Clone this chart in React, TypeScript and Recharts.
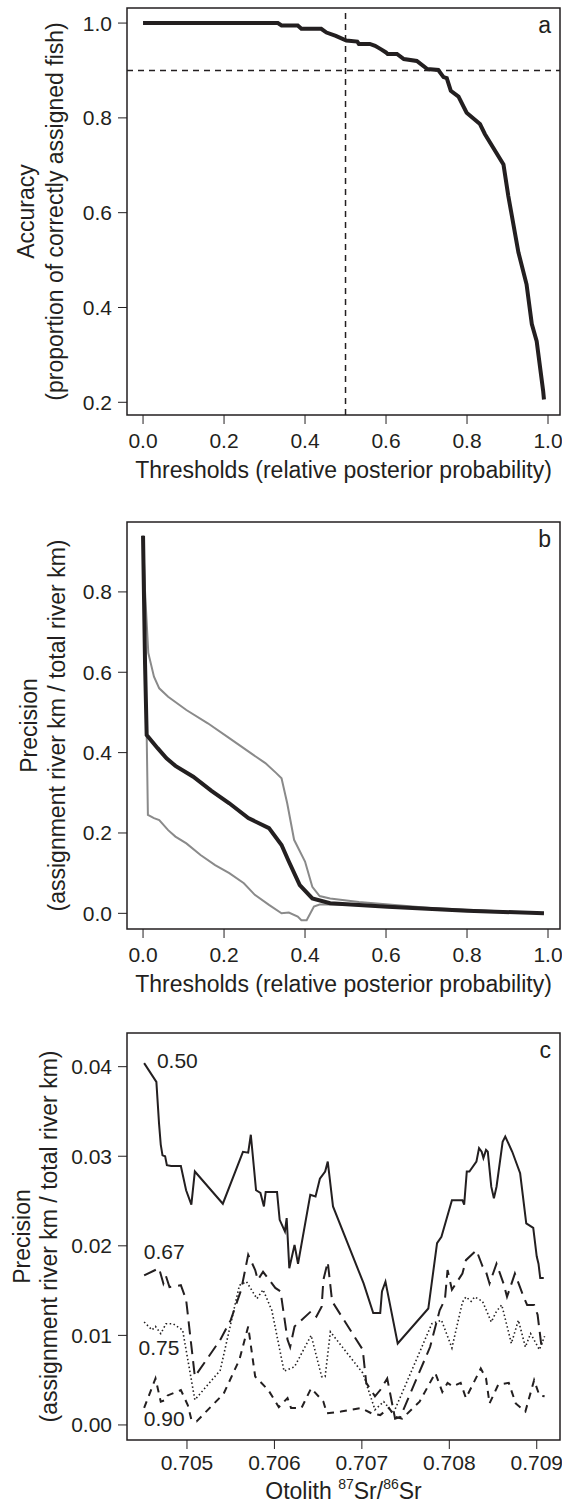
import React from "react";
import {
  LineChart, Line, XAxis, YAxis, ReferenceLine, ReferenceArea, ReferenceDot,
} from "recharts";

const INK = "#231f20";
const GREY = "#8a8a8a";

// panel a: accuracy vs threshold
const A_THRESH = [0, 0.333, 0.342, 0.382, 0.391, 0.44, 0.453, 0.476, 0.502, 0.529, 0.533, 0.56, 0.573, 0.587, 0.6, 0.604, 0.627, 0.644, 0.676, 0.702, 0.729, 0.742, 0.75, 0.76, 0.779, 0.799, 0.832, 0.844, 0.89, 0.902, 0.927, 0.947, 0.96, 0.972, 0.988, 0.99];
const A_ACC = [1.0, 1.0, 0.995, 0.995, 0.988, 0.988, 0.98, 0.973, 0.963, 0.961, 0.956, 0.956, 0.952, 0.945, 0.938, 0.935, 0.935, 0.924, 0.92, 0.903, 0.901, 0.886, 0.884, 0.857, 0.845, 0.811, 0.787, 0.766, 0.702, 0.635, 0.516, 0.449, 0.365, 0.329, 0.224, 0.206];
const A_XTICKS = [0, 0.2, 0.4, 0.6, 0.8, 1.0];
const A_YTICKS = [0.2, 0.4, 0.6, 0.8, 1.0];

// panel b: precision vs threshold (mean and bounds)
const B_MEAN_X = [0, 0.005, 0.009, 0.036, 0.058, 0.08, 0.124, 0.169, 0.213, 0.26, 0.311, 0.342, 0.36, 0.387, 0.418, 0.462, 0.604, 0.8, 0.99];
const B_MEAN_Y = [0.94, 0.62, 0.444, 0.411, 0.386, 0.367, 0.34, 0.305, 0.274, 0.237, 0.212, 0.17, 0.129, 0.0705, 0.037, 0.025, 0.0166, 0.0066, 0.0];
const B_UP_X = [0, 0.005, 0.013, 0.027, 0.04, 0.062, 0.107, 0.16, 0.213, 0.267, 0.302, 0.329, 0.342, 0.356, 0.373, 0.4, 0.418, 0.436, 0.462, 0.533, 0.71, 0.99];
const B_UP_Y = [0.94, 0.8, 0.648, 0.589, 0.56, 0.539, 0.506, 0.473, 0.436, 0.398, 0.374, 0.349, 0.336, 0.274, 0.183, 0.129, 0.066, 0.043, 0.037, 0.028, 0.013, 0.0];
const B_LO_X = [0, 0.005, 0.009, 0.012, 0.027, 0.04, 0.062, 0.08, 0.107, 0.142, 0.178, 0.213, 0.249, 0.276, 0.311, 0.342, 0.36, 0.382, 0.391, 0.404, 0.422, 0.436, 0.471, 0.533, 0.71, 0.99];
const B_LO_Y = [0.94, 0.62, 0.444, 0.245, 0.237, 0.232, 0.207, 0.191, 0.174, 0.145, 0.12, 0.1, 0.075, 0.046, 0.021, 0.0, 0.002, -0.008, -0.017, -0.017, 0.017, 0.022, 0.022, 0.02, 0.012, 0.0];
const B_YTICKS = [0, 0.2, 0.4, 0.6, 0.8];

// panel c: precision vs otolith Sr ratio, four thresholds
const C50_X = [0.70451, 0.70465, 0.70468, 0.7047, 0.70472, 0.70475, 0.70477, 0.70482, 0.70493, 0.70499, 0.70505, 0.70509, 0.70541, 0.70564, 0.7057, 0.70573, 0.70579, 0.70584, 0.70588, 0.7059, 0.70603, 0.70606, 0.70612, 0.70614, 0.70617, 0.70623, 0.70627, 0.70641, 0.70647, 0.70652, 0.70658, 0.70661, 0.70667, 0.70702, 0.70713, 0.70721, 0.70723, 0.70727, 0.70741, 0.70776, 0.70786, 0.70791, 0.70803, 0.70815, 0.70817, 0.7082, 0.70823, 0.70831, 0.70834, 0.70837, 0.70839, 0.70842, 0.70844, 0.70848, 0.70851, 0.70854, 0.70861, 0.70864, 0.70872, 0.70881, 0.70888, 0.70896, 0.709, 0.70902, 0.70904, 0.70908];
const C50_Y = [0.0404, 0.0383, 0.0337, 0.0313, 0.0301, 0.03, 0.029, 0.0289, 0.0289, 0.0262, 0.0246, 0.0283, 0.0247, 0.0305, 0.0304, 0.0324, 0.0262, 0.0259, 0.0244, 0.026, 0.026, 0.0229, 0.0216, 0.0231, 0.0175, 0.0201, 0.018, 0.0257, 0.0255, 0.0275, 0.0283, 0.0294, 0.0244, 0.0158, 0.0125, 0.0125, 0.0149, 0.016, 0.0091, 0.013, 0.0203, 0.021, 0.0251, 0.0251, 0.0246, 0.0283, 0.0283, 0.0294, 0.0309, 0.0305, 0.0298, 0.0307, 0.0305, 0.0266, 0.0253, 0.0266, 0.0316, 0.0322, 0.0305, 0.0281, 0.0225, 0.022, 0.0188, 0.018, 0.0164, 0.0164];
const C67_X = [0.70451, 0.70468, 0.70473, 0.70476, 0.7048, 0.70493, 0.70499, 0.70509, 0.70538, 0.7055, 0.70562, 0.7057, 0.70578, 0.70581, 0.70587, 0.70601, 0.70607, 0.70615, 0.70618, 0.70623, 0.70642, 0.70648, 0.70654, 0.70656, 0.70661, 0.70666, 0.70701, 0.70705, 0.70715, 0.70721, 0.70729, 0.70738, 0.70744, 0.70778, 0.70789, 0.70795, 0.70798, 0.70803, 0.70815, 0.70819, 0.70831, 0.70838, 0.70842, 0.70846, 0.70854, 0.70862, 0.70866, 0.70875, 0.70885, 0.70889, 0.70897, 0.70901, 0.70905, 0.70909];
const C67_Y = [0.0167, 0.0175, 0.0158, 0.0166, 0.0154, 0.0156, 0.014, 0.0054, 0.0095, 0.0117, 0.0151, 0.019, 0.0173, 0.0162, 0.0171, 0.0153, 0.0149, 0.0095, 0.0087, 0.011, 0.0127, 0.0121, 0.0132, 0.0162, 0.0182, 0.0138, 0.0084, 0.0047, 0.0032, 0.0039, 0.0052, 0.0007, 0.0009, 0.0087, 0.0128, 0.014, 0.0173, 0.0151, 0.0169, 0.0184, 0.0195, 0.0177, 0.0171, 0.0158, 0.018, 0.0158, 0.0143, 0.0169, 0.0143, 0.0134, 0.0134, 0.0123, 0.0091, 0.0091];
const C75_X = [0.70451, 0.7046, 0.70464, 0.7047, 0.70476, 0.70484, 0.70495, 0.70509, 0.70538, 0.7056, 0.70568, 0.7058, 0.70587, 0.70597, 0.70603, 0.70611, 0.70623, 0.70642, 0.70654, 0.70658, 0.70664, 0.70701, 0.70715, 0.70725, 0.70736, 0.7078, 0.70791, 0.70803, 0.70815, 0.70819, 0.70825, 0.70829, 0.70838, 0.70848, 0.70854, 0.7086, 0.70871, 0.70879, 0.70887, 0.70893, 0.70903, 0.70909];
const C75_Y = [0.0115, 0.0106, 0.011, 0.0102, 0.0113, 0.0113, 0.0106, 0.0028, 0.0061, 0.0156, 0.016, 0.0141, 0.0151, 0.0128, 0.0099, 0.006, 0.0065, 0.01, 0.0054, 0.0054, 0.0104, 0.0058, 0.0017, 0.0026, 0.0013, 0.0113, 0.0117, 0.0086, 0.0137, 0.0143, 0.0138, 0.0143, 0.0138, 0.0115, 0.0127, 0.0134, 0.0091, 0.0117, 0.0087, 0.0102, 0.0084, 0.0099];
const C90_X = [0.70451, 0.70464, 0.7047, 0.70476, 0.70478, 0.70493, 0.70501, 0.70505, 0.70511, 0.70542, 0.7056, 0.7057, 0.70578, 0.70593, 0.70605, 0.70615, 0.70619, 0.70631, 0.70642, 0.70656, 0.7066, 0.70676, 0.70699, 0.70711, 0.70721, 0.70731, 0.70738, 0.70746, 0.70766, 0.70784, 0.70792, 0.70798, 0.70804, 0.70813, 0.70819, 0.70836, 0.70842, 0.70846, 0.70856, 0.70868, 0.70876, 0.70887, 0.70897, 0.70903, 0.70909];
const C90_Y = [0.0019, 0.0052, 0.0026, 0.0028, 0.0033, 0.0039, 0.0022, 0.0006, 0.0004, 0.0035, 0.0073, 0.011, 0.0054, 0.0039, 0.002, 0.003, 0.0019, 0.0019, 0.0041, 0.0026, 0.0013, 0.0015, 0.0019, 0.0013, 0.0011, 0.0019, 0.0009, 0.0007, 0.0026, 0.0058, 0.0037, 0.0047, 0.0043, 0.0047, 0.003, 0.0063, 0.0052, 0.0024, 0.0045, 0.0047, 0.0024, 0.0015, 0.005, 0.0033, 0.0032];
const C_XTICKS = [0.705, 0.706, 0.707, 0.708, 0.709];
const C_YTICKS = [0, 0.01, 0.02, 0.03, 0.04];
const C_LABELS = ["0.50", "0.67", "0.75", "0.90"];
const C_LABEL_X = [0.70489, 0.70474, 0.70468, 0.70474];
const C_LABEL_Y = [0.0407, 0.0194, 0.0086, 0.0007];

const zip = (xs: number[], ys: number[]) => xs.map((x, i) => ({ x, y: ys[i] }));

const A_XDOM: [number, number] = [-0.0396, 1.0296];
const A_YDOM: [number, number] = [0.1732, 1.0318];
const B_YDOM: [number, number] = [-0.039, 0.974];
const C_XDOM: [number, number] = [0.704314, 0.709266];
const C_YDOM: [number, number] = [-0.00168, 0.04376];

const MARGIN = { top: 8, right: 2, left: 67, bottom: 0 };
const tickStyle = { fontSize: 21, fill: INK };
const TITLE_SIZE = 23;

function yTitle(line1: string, line2: string, x1: number, x2: number) {
  return (props: any) => {
    const vb = props.viewBox;
    const cy = vb.y + vb.height / 2;
    return (
      <g fill={INK} fontSize={TITLE_SIZE}>
        <text x={x1} y={cy} textAnchor="middle" dominantBaseline="central" transform={`rotate(-90 ${x1} ${cy})`}>{line1}</text>
        <text x={x2} y={cy} textAnchor="middle" dominantBaseline="central" transform={`rotate(-90 ${x2} ${cy})`}>{line2}</text>
      </g>
    );
  };
}

function xTitle(content: React.ReactNode, offset = 55) {
  return (props: any) => {
    const vb = props.viewBox;
    return (
      <text x={vb.x + vb.width / 2} y={vb.y + offset} textAnchor="middle" dominantBaseline="central" fill={INK} fontSize={TITLE_SIZE}>
        {content}
      </text>
    );
  };
}

function panelLetter(letter: string) {
  return (props: any) => {
    const vb = props.viewBox;
    return (
      <text x={vb.x + vb.width - 9} y={vb.y + 17} textAnchor="end" dominantBaseline="central" fill={INK} fontSize={TITLE_SIZE}>
        {letter}
      </text>
    );
  };
}

const seriesLabel = (text: string) => (props: any) => {
  const vb = props.viewBox;
  return (
    <text x={vb.x} y={vb.y} textAnchor="middle" dominantBaseline="central" fill={INK} fontSize={21}>{text}</text>
  );
};

const THRESH_TITLE = "Thresholds (relative posterior probability)";

export default function App() {
  const aData = zip(A_THRESH, A_ACC);
  const bMean = zip(B_MEAN_X, B_MEAN_Y);
  const bUp = zip(B_UP_X, B_UP_Y);
  const bLo = zip(B_LO_X, B_LO_Y);
  const c50 = zip(C50_X, C50_Y);
  const c67 = zip(C67_X, C67_Y);
  const c75 = zip(C75_X, C75_Y);
  const c90 = zip(C90_X, C90_Y);

  return (
    <div style={{ position: "absolute", left: 0, top: 0, width: 562, height: 1506, background: "#fff", fontFamily: "'Liberation Sans', Arial, sans-serif" }}>
      {/* panel a */}
      <LineChart width={562} height={514} margin={{ ...MARGIN, bottom: 39 }}>
        <XAxis dataKey="x" type="number" domain={A_XDOM} ticks={A_XTICKS} interval={0} allowDataOverflow
          tickFormatter={(v: number) => v.toFixed(1)} tick={tickStyle} axisLine={false} stroke={INK}
          tickSize={9} tickMargin={9} height={60} label={xTitle(THRESH_TITLE)} />
        <YAxis dataKey="y" type="number" domain={A_YDOM} ticks={A_YTICKS} interval={0} allowDataOverflow
          tickFormatter={(v: number) => v.toFixed(1)} tick={tickStyle} axisLine={false} stroke={INK}
          tickSize={9} tickMargin={6} width={60}
          label={yTitle("Accuracy", "(proportion of correctly assigned fish)", 26, 55)} />
        <ReferenceArea x1={A_XDOM[0]} x2={A_XDOM[1]} y1={A_YDOM[0]} y2={A_YDOM[1]} fill="none" stroke={INK} strokeWidth={1.5} label={panelLetter("a")} />
        <ReferenceLine x={0.5} stroke={INK} strokeWidth={1.5} strokeDasharray="6 5" />
        <ReferenceLine y={0.9} stroke={INK} strokeWidth={1.5} strokeDasharray="6 5" />
        <Line data={aData} dataKey="y" type="linear" stroke={INK} strokeWidth={4} dot={false} isAnimationActive={false} />
      </LineChart>

      {/* panel b */}
      <LineChart width={562} height={511} margin={{ ...MARGIN, bottom: 36 }}>
        <XAxis dataKey="x" type="number" domain={A_XDOM} ticks={A_XTICKS} interval={0} allowDataOverflow
          tickFormatter={(v: number) => v.toFixed(1)} tick={tickStyle} axisLine={false} stroke={INK}
          tickSize={9} tickMargin={9} height={60} label={xTitle(THRESH_TITLE)} />
        <YAxis dataKey="y" type="number" domain={B_YDOM} ticks={B_YTICKS} interval={0} allowDataOverflow
          tickFormatter={(v: number) => v.toFixed(1)} tick={tickStyle} axisLine={false} stroke={INK}
          tickSize={9} tickMargin={6} width={60}
          label={yTitle("Precision", "(assignment river km / total river km)", 29, 57)} />
        <ReferenceArea x1={A_XDOM[0]} x2={A_XDOM[1]} y1={B_YDOM[0]} y2={B_YDOM[1]} fill="none" stroke={INK} strokeWidth={1.5} label={panelLetter("b")} />
        <Line data={bUp} dataKey="y" type="linear" stroke={GREY} strokeWidth={2} dot={false} isAnimationActive={false} />
        <Line data={bLo} dataKey="y" type="linear" stroke={GREY} strokeWidth={2} dot={false} isAnimationActive={false} />
        <Line data={bMean} dataKey="y" type="linear" stroke={INK} strokeWidth={4} dot={false} isAnimationActive={false} />
      </LineChart>

      {/* panel c */}
      <LineChart width={562} height={481} margin={{ ...MARGIN, bottom: 6 }}>
        <XAxis dataKey="x" type="number" domain={C_XDOM} ticks={C_XTICKS} interval={0} allowDataOverflow
          tickFormatter={(v: number) => v.toFixed(3)} tick={tickStyle} axisLine={false} stroke={INK}
          tickSize={9} tickMargin={6} height={60}
          label={xTitle(<>
            <tspan>Otolith </tspan>
            <tspan fontSize={14} dy={-7}>87</tspan>
            <tspan dy={7}>Sr/</tspan>
            <tspan fontSize={14} dy={-7}>86</tspan>
            <tspan dy={7}>Sr</tspan>
          </>, 51)} />
        <YAxis dataKey="y" type="number" domain={C_YDOM} ticks={C_YTICKS} interval={0} allowDataOverflow
          tickFormatter={(v: number) => v.toFixed(2)} tick={tickStyle} axisLine={false} stroke={INK}
          tickSize={9} tickMargin={6} width={60}
          label={yTitle("Precision", "(assignment river km / total river km)", 22, 49)} />
        <ReferenceArea x1={C_XDOM[0]} x2={C_XDOM[1]} y1={C_YDOM[0]} y2={C_YDOM[1]} fill="none" stroke={INK} strokeWidth={1.5} label={panelLetter("c")} />
        <Line data={c90} dataKey="y" type="linear" stroke={INK} strokeWidth={2} strokeDasharray="7 6" dot={false} isAnimationActive={false} />
        <Line data={c75} dataKey="y" type="linear" stroke={INK} strokeWidth={1.6} strokeDasharray="1.5 2.5" dot={false} isAnimationActive={false} />
        <Line data={c67} dataKey="y" type="linear" stroke={INK} strokeWidth={2} strokeDasharray="13 7" dot={false} isAnimationActive={false} />
        <Line data={c50} dataKey="y" type="linear" stroke={INK} strokeWidth={2} dot={false} isAnimationActive={false} />
        {C_LABELS.map((t, i) => (
          <ReferenceDot key={t} x={C_LABEL_X[i]} y={C_LABEL_Y[i]} r={0} fill="none" stroke="none" label={seriesLabel(t)} />
        ))}
      </LineChart>
    </div>
  );
}
